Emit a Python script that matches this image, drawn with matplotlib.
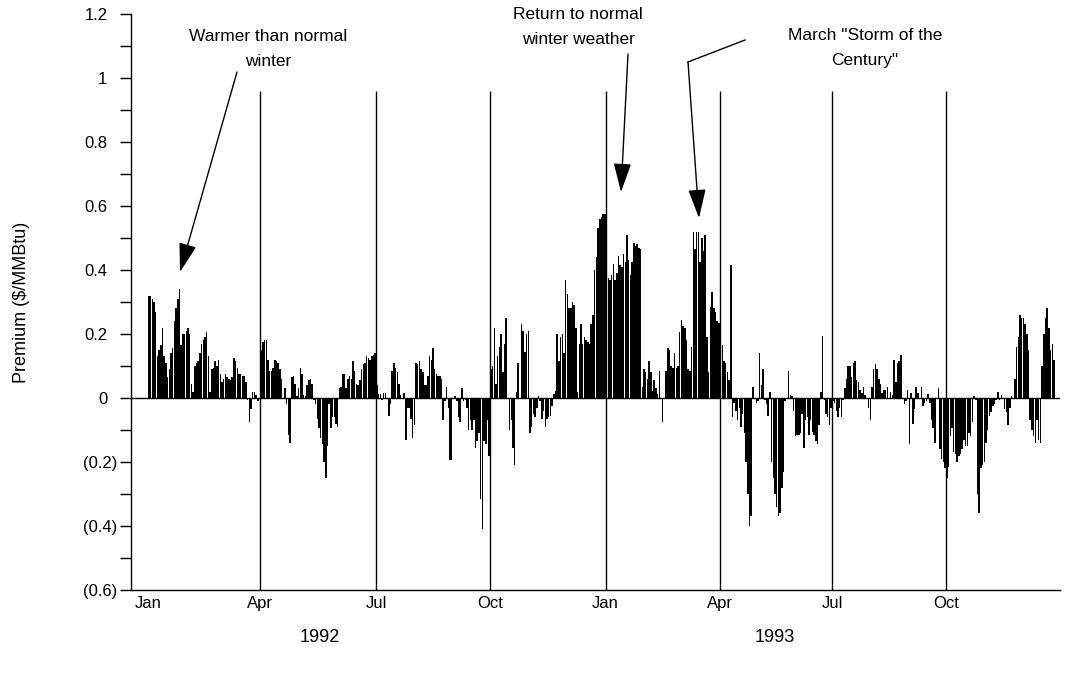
import numpy as np
import matplotlib
matplotlib.use("Agg")
import matplotlib.pyplot as plt
from matplotlib.patches import ArrowStyle
from matplotlib.transforms import ScaledTranslation

plt.rcParams['font.family'] = ['Liberation Sans', 'DejaVu Sans']

# Daily premium ($/MMBtu), one list per quarter
q1_1992 = [0.32, 0.32, 0.31, 0.30, 0.27, 0.13, 0.15, 0.165, 0.22, 0.13, 0.11, 0.065, 0.09, 0.14, 0.155,
           0.24, 0.28, 0.31, 0.34, 0.165, 0.20, 0.20, 0.21, 0.22, 0.20, 0.045, 0.02, 0.10, 0.11, 0.115,
           0.14, 0.17, 0.18, 0.19, 0.205, 0.13, 0.02, 0.09, 0.095, 0.115, 0.10, 0.12, 0.075, 0.05, 0.06,
           0.075, 0.065, 0.06, 0.055, 0.065, 0.125, 0.115, 0.095, 0.075, 0.075, 0.07, 0.068, 0.05,
           -0.005, -0.075, -0.035, 0.02, 0.018, 0.01, -0.01, 0.0]
q2_1992 = [0.15, 0.175, 0.18, 0.18, 0.12, 0.085, 0.085, 0.095, 0.12, 0.115, 0.11, 0.09, 0.06, 0.0, 0.03,
           -0.02, -0.115, -0.14, 0.065, 0.07, 0.045, 0.005, 0.03, 0.095, 0.075, 0.01, 0.005, 0.04, 0.055,
           0.06, 0.045, -0.005, -0.02, -0.065, -0.095, -0.125, -0.145, -0.2, -0.25, -0.15, -0.02, -0.095,
           -0.06, -0.06, -0.08, -0.09, 0.03, 0.033, 0.075, 0.075, 0.03, 0.06, 0.068, 0.06, 0.115,
           0.085, 0.045, 0.04, 0.055, 0.09, 0.105, 0.11, 0.13, 0.125, 0.12, 0.13, 0.135, 0.14]
q3_1992 = [0.04, 0.013, 0.013, -0.005, 0.015, 0.015, 0.0, -0.055, -0.02, 0.085, 0.11, 0.095, 0.08,
           0.045, 0.01, 0.0, 0.015, -0.13, -0.03, -0.03, -0.065, -0.125, -0.085, 0.11, 0.105, 0.115, 0.09,
           0.08, 0.04, 0.04, 0.07, 0.13, 0.12, 0.155, 0.09, 0.075, 0.07, 0.068, 0.06, -0.07, -0.01, 0.035,
           -0.03, -0.195, -0.195, 0.0, 0.007, -0.01, -0.06, -0.075, 0.03, -0.01, -0.005, -0.03, -0.1,
           -0.07, -0.1, -0.07, -0.155, -0.135, -0.11, -0.315, -0.41, -0.135, -0.145, -0.07, -0.18]
q4_1992 = [0.09, 0.10, 0.22, 0.045, 0.13, 0.16, 0.2, 0.08, 0.17, 0.25, 0.0, -0.1, -0.07, -0.155, -0.21,
           0.02, 0.11, 0.0, 0.23, 0.21, 0.145, 0.2, 0.21, -0.11, -0.09, -0.05, -0.06, -0.03, 0.007, -0.01,
           -0.065, -0.04, -0.09, -0.065, -0.06, -0.055, -0.025, 0.013, 0.023, 0.2, 0.117, 0.19, 0.2, 0.14,
           0.37, 0.325, 0.28, 0.28, 0.30, 0.29, 0.22, 0.02, 0.17, 0.23, 0.17, 0.19, 0.18, 0.175, 0.17,
           0.23, 0.26, 0.40, 0.44, 0.53, 0.56, 0.565, 0.575, 0.575]
q1_1993 = [0.52, 0.375, 0.37, 0.385, 0.42, 0.37, 0.39, 0.445, 0.415, 0.41, 0.45, 0.425, 0.51, 0.43, 0.385,
           0.425, 0.485, 0.475, 0.48, 0.47, 0.465, 0.033, 0.09, 0.08, 0.06, 0.117, 0.08, 0.023, 0.055,
           0.03, 0.013, 0.085, 0.0, -0.075, 0.0, 0.085, 0.155, 0.15, 0.1, 0.095, 0.14, 0.095, 0.1,
           0.205, 0.245, 0.225, 0.22, 0.18, 0.09, 0.085, 0.16, 0.52, 0.465, 0.52, 0.52, 0.425, 0.5, 0.46,
           0.51, 0.19, 0.08, 0.285, 0.33, 0.28, 0.27, 0.24, 0.235]
q2_1993 = [0.195, 0.165, 0.117, 0.11, 0.08, 0.055, 0.415, -0.06, -0.015, -0.04, -0.07, -0.03, -0.09, -0.05,
           -0.11, -0.2, -0.3, -0.40, -0.37, 0.035, 0.0, -0.015, -0.01, 0.14, 0.04, 0.09, -0.005,
           -0.02, -0.055, 0.02, -0.2, -0.25, -0.3, -0.34, -0.37, -0.36, -0.28, -0.23, -0.01, 0.0, 0.085,
           0.01, 0.005, -0.04, -0.12, -0.115, -0.115, -0.11, -0.05, -0.155, -0.07, -0.06, -0.115,
           -0.07, -0.105, -0.115, -0.135, -0.145, -0.085, 0.02, 0.195, -0.005, -0.05, -0.06,
           -0.085, -0.03]
q3_1993 = [-0.01, -0.015, -0.04, -0.06, -0.03, -0.06, -0.005, 0.03, 0.06, 0.1, 0.1, 0.065, 0.11, 0.115,
           0.055, 0.05, 0.025, 0.015, 0.035, 0.01, 0.0, -0.03, -0.07, 0.035, 0.09, 0.105, 0.09, 0.06,
           0.045, 0.015, 0.025, 0.025, 0.035, 0.0, 0.02, 0.01, 0.12, 0.05, 0.11, 0.115, 0.135, 0.0, -0.02,
           -0.01, 0.025, -0.145, 0.015, -0.08, -0.035, 0.035, 0.015, 0.0, 0.035, -0.025, -0.015, -0.01,
           0.013, -0.015, -0.07, -0.095, -0.14, 0.0, 0.03, -0.16, -0.19, -0.2, -0.22]
q4_1993 = [-0.25, -0.215, -0.12, -0.095, -0.17, -0.175, -0.2, -0.18, -0.175, -0.16, -0.13, -0.15, -0.15,
           -0.11, -0.12, -0.075, 0.005, -0.005, -0.3, -0.36, -0.22, -0.21, -0.2, -0.14, -0.1, -0.055,
           -0.045, -0.025, -0.02, -0.005, 0.02, -0.005, 0.01, 0.0, -0.035, -0.045, -0.085, -0.03, 0.005,
           0.0, 0.06, 0.16, 0.19, 0.26, 0.25, 0.25, 0.23, 0.2, 0.15, -0.07, -0.1, -0.12, -0.14, -0.07,
           -0.13, -0.14, 0.1, 0.2, 0.25, 0.28, 0.22, 0.15, 0.17, 0.12]

quarters = [q1_1992, q2_1992, q3_1992, q4_1992, q1_1993, q2_1993, q3_1993, q4_1993]
month_labels = ["Jan", "Apr", "Jul", "Oct", "Jan", "Apr", "Jul", "Oct"]
year_labels = ["1992", "1993"]
y_ticks = [1.2, 1.0, 0.8, 0.6, 0.4, 0.2, 0.0, -0.2, -0.4, -0.6]
y_tick_labels = ["1.2", "1", "0.8", "0.6", "0.4", "0.2", "0", "(0.2)", "(0.4)", "(0.6)"]

values = np.concatenate([np.array(q, dtype=float) for q in quarters])
n = len(values)
idx = np.arange(n)
starts = np.cumsum([0] + [len(q) for q in quarters[:-1]]) - 0.5

W, H = 1074, 677
fig = plt.figure(figsize=(W / 100, H / 100), dpi=100)
ax_left, ax_right, ax_top, ax_bottom = 131, 1060, 14, 590
ax = fig.add_axes([ax_left / W, 1 - ax_bottom / H, (ax_right - ax_left) / W, (ax_bottom - ax_top) / H])

ax.bar(idx, values, width=0.88, color='black', linewidth=0)
ax.axhline(0, color='black', lw=1.0, zorder=3)
ax.vlines(starts[1:], -0.6, 0.96, color='black', lw=1.0)

ax.set_ylim(-0.6, 1.2)
ax.set_xlim(-10.5, n + 2.5)

for s in ['top', 'right']:
    ax.spines[s].set_visible(False)
for s in ['left', 'bottom']:
    ax.spines[s].set_linewidth(1.0)

ax.set_yticks(y_ticks)
ax.set_yticklabels(y_tick_labels, fontsize=12)
ax.set_yticks(np.arange(-0.5, 1.2, 0.2), minor=True)
ax.tick_params(axis='y', which='major', direction='out', length=8, width=1, pad=9)
ax.tick_params(axis='y', which='minor', direction='out', length=8, width=1)
shift = ScaledTranslation(7 / 72, 0, fig.dpi_scale_trans)
for lab in ax.get_yticklabels():
    if lab.get_text().startswith("("):
        lab.set_transform(lab.get_transform() + shift)

ax.set_xticks(starts)
ax.set_xticklabels(month_labels, fontsize=12)
ax.tick_params(axis='x', which='major', direction='out', length=0, width=1, pad=4)

ax.set_ylabel("Premium ($/MMBtu)", fontsize=13, labelpad=38)

def fp(x, y):
    return (x / W, 1 - y / H)

fig.text(*fp(320, 637), year_labels[0], ha='center', va='center', fontsize=13)
fig.text(*fp(775, 637), year_labels[1], ha='center', va='center', fontsize=13)

style = ArrowStyle('-|>', head_length=1.8, head_width=0.55)
akw = dict(arrowstyle=style, color='black', lw=1.0, mutation_scale=10, shrinkA=0, shrinkB=0)

fig.text(*fp(268, 49), "Warmer than normal\nwinter", ha='center', va='center', fontsize=12.5,
         linespacing=1.85)
ax.annotate("", xy=fp(180, 272), xycoords='figure fraction', xytext=fp(237, 72),
            textcoords='figure fraction', arrowprops=akw)

fig.text(*fp(578, 27), "Return to normal\nwinter weather", ha='center', va='center', fontsize=12.5,
         linespacing=1.8)
ax.annotate("", xy=fp(621, 192), xycoords='figure fraction', xytext=fp(628, 54),
            textcoords='figure fraction', arrowprops=akw)

fig.text(*fp(865, 48), "March \"Storm of the\nCentury\"", ha='center', va='center', fontsize=12.5,
         linespacing=1.8)
x0, y0 = fp(745, 40)
x1, y1 = fp(688, 62)
fig.add_artist(plt.Line2D([x0, x1], [y0, y1], color='black', lw=1.0, transform=fig.transFigure))
ax.annotate("", xy=fp(699, 218), xycoords='figure fraction', xytext=(x1, y1),
            textcoords='figure fraction', arrowprops=akw)

fig.savefig("out.png", dpi=100)
